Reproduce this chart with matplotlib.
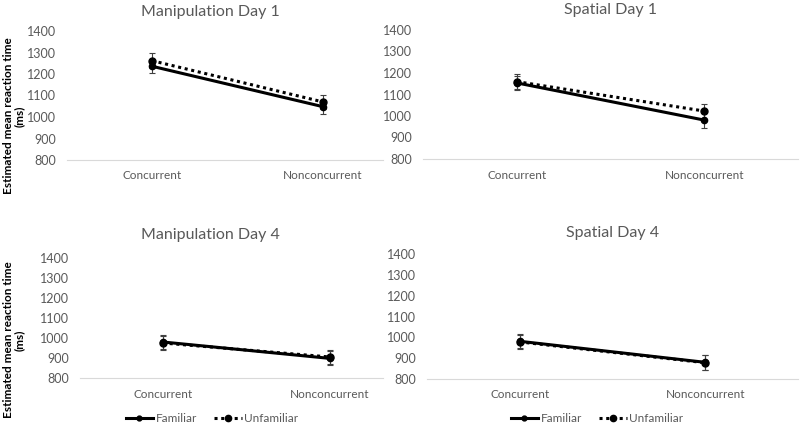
import matplotlib.pyplot as plt
from matplotlib.lines import Line2D

plt.rcParams['font.family'] = ['Lato', 'DejaVu Sans']

categories = ['Concurrent', 'Nonconcurrent']
series_names = ['Familiar', 'Unfamiliar']

titles = ['Manipulation Day 1', 'Spatial Day 1', 'Manipulation Day 4', 'Spatial Day 4']

# estimated means (ms)
familiar = [[1236, 1048], [1154, 981], [980, 898], [981, 880]]
unfamiliar = [[1262, 1070], [1160, 1023], [975, 905], [978, 878]]
familiar_err = [[33, 32], [33, 35], [33, 35], [33, 35]]
unfamiliar_err = [[35, 33], [35, 35], [35, 35], [35, 35]]

yticks = [800, 900, 1000, 1100, 1200, 1300, 1400]

W, H = 800, 425
# (left, right, y_top(1400), y_bottom(800)) in pixels, and xlim
boxes = [(67, 383, 31, 160), (423, 798, 30, 159), (80, 383, 258, 378), (427, 798, 254, 379)]
xlims = [(-0.497, 1.351), (-0.5, 1.5), (-0.497, 1.318), (-0.5, 1.5)]
title_y = [12, 10, 235, 233]
cat_y = [176, 176, 395, 395]
ylab_y = [116, None, 340, None]

grey = '#595959'
fig = plt.figure(figsize=(8, 4.25), dpi=100)

for i in range(4):
    l, r, t, b = boxes[i]
    ax = fig.add_axes([l / W, 1 - b / H, (r - l) / W, (b - t) / H])
    x = [0, 1]
    ax.errorbar(x, familiar[i], yerr=familiar_err[i], fmt='none', ecolor='#404040',
                elinewidth=0.8, capsize=2.5, capthick=0.8, zorder=2)
    ax.errorbar(x, unfamiliar[i], yerr=unfamiliar_err[i], fmt='none', ecolor='#404040',
                elinewidth=0.8, capsize=2.5, capthick=0.8, zorder=2)
    ax.plot(x, unfamiliar[i], color='black', lw=2.2, ls=(0, (1, 1.2)),
            marker='o', ms=5, zorder=3)
    ax.plot(x, familiar[i], color='black', lw=2.2, marker='o', ms=4.5, zorder=4)

    ax.set_xlim(*xlims[i])
    ax.set_ylim(800, 1400)
    ax.set_yticks(yticks)
    ax.set_xticks([])
    for s in ['top', 'right', 'left']:
        ax.spines[s].set_visible(False)
    ax.spines['bottom'].set_color('#d9d9d9')
    ax.spines['bottom'].set_linewidth(0.8)
    ax.tick_params(axis='y', length=0, labelsize=9, labelcolor=grey, pad=8)
    ax.patch.set_alpha(0)

    # category labels
    for xi, c in zip(x, categories):
        xp = ax.transData.transform((xi, 0))[0]
        fig.text(xp / W, 1 - cat_y[i] / H, c, ha='center', va='center',
                 fontsize=8.5, color=grey)

    fig.text((l + r) / 2 / W if i % 2 else 210 / W, 1 - title_y[i] / H, titles[i],
             ha='center', va='center', fontsize=11.5, color=grey)

    if i % 2 == 0:
        fig.text(14 / W, 1 - ylab_y[i] / H, 'Estimated mean reaction time\n(ms)',
                 rotation=90, ha='center', va='center', multialignment='center',
                 linespacing=1.0, fontsize=8.5, fontweight='bold', color='black')

    if i >= 2:
        handles = [Line2D([], [], color='black', lw=2.2, marker='o', ms=3.5),
                   Line2D([], [], color='black', lw=2.2, ls=(0, (1, 1.2)), marker='o', ms=4.5)]
        cx = 212 if i == 2 else 597
        fig.legend(handles, series_names, loc='center', bbox_to_anchor=(cx / W, 1 - 419 / H),
                   ncol=2, frameon=False, fontsize=8.5, labelcolor=grey, handlelength=2.3,
                   handletextpad=0.2, columnspacing=1.5)

fig.savefig('out.png', dpi=100)
